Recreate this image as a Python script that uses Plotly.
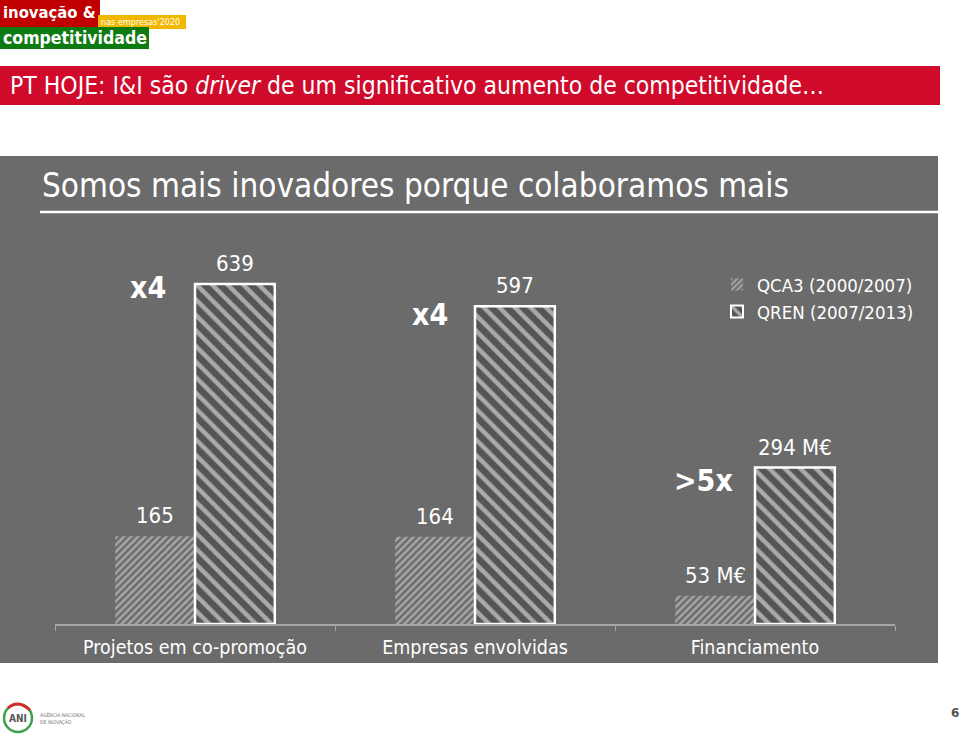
import plotly.graph_objects as go

categories = ["Projetos em co-promoção", "Empresas envolvidas", "Financiamento"]
qca3_values = [165, 164, 53]
qren_values = [639, 597, 294]
qca3_labels = ["165", "164", "53 M€"]
qren_labels = ["639", "597", "294 M€"]
multipliers = ["x4", "x4", ">5x"]
series_names = ["QCA3 (2000/2007)", "QREN (2007/2013)"]

FONT = "DejaVu Sans Condensed, DejaVu Sans, sans-serif"
PANEL = "#6b6b6b"

# plot area in pixels
L, R, T, B = 55, 65, 252, 114
W, H = 960, 738
PW, PH = W - L - R, H - T - B


def px(x):
    return (x - L) / PW


def py(y):
    return (H - B - y) / PH


fig = go.Figure()
fig.add_trace(go.Bar(
    x=categories, y=qca3_values, name=series_names[0],
    marker=dict(color=PANEL, line=dict(width=0),
                pattern=dict(shape="/", fgcolor="#e2e2e2", bgcolor=PANEL,
                             size=5, solidity=0.5)),
))
fig.add_trace(go.Bar(
    x=categories, y=qren_values, name=series_names[1],
    marker=dict(color="#555555", line=dict(width=2.5, color="white"),
                pattern=dict(shape="\\", fgcolor="white", bgcolor="#555555",
                             size=11, solidity=0.4)),
))

annotations = []
for i, c in enumerate(categories):
    annotations.append(dict(x=c, y=qca3_values[i], xref="x", yref="y", text=qca3_labels[i],
                            xshift=-40, yshift=6, yanchor="bottom", showarrow=False,
                            font=dict(family=FONT, size=22, color="white")))
    annotations.append(dict(x=c, y=qren_values[i], xref="x", yref="y", text=qren_labels[i],
                            xshift=40, yshift=6, yanchor="bottom", showarrow=False,
                            font=dict(family=FONT, size=22, color="white")))

mult_pos = [(148, 287), (430, 314), (703, 480)]
for m, (mx, my) in zip(multipliers, mult_pos):
    annotations.append(dict(x=px(mx), y=py(my), xref="paper", yref="paper", text="<b>%s</b>" % m,
                            showarrow=False, xanchor="center", yanchor="middle",
                            font=dict(family=FONT, size=30, color="white")))

# titles
annotations.append(dict(x=px(8), y=py(86), xref="paper", yref="paper", xanchor="left", yanchor="middle",
                        text="PT HOJE: I&I são <i>driver</i> de um significativo aumento de competitividade…",
                        showarrow=False, font=dict(family=FONT, size=24.5, color="white")))
annotations.append(dict(x=px(40), y=py(186), xref="paper", yref="paper", xanchor="left", yanchor="middle",
                        text="Somos mais inovadores porque colaboramos mais",
                        showarrow=False, font=dict(family=FONT, size=33, color="white")))
# logo top-left
annotations.append(dict(x=px(1), y=py(13), xref="paper", yref="paper", xanchor="left", yanchor="middle",
                        text="<b>inovação &</b>", showarrow=False,
                        font=dict(family=FONT, size=16.5, color="white")))
annotations.append(dict(x=px(99), y=py(22), xref="paper", yref="paper", xanchor="left", yanchor="middle",
                        text="nas empresas'2020", showarrow=False,
                        font=dict(family=FONT, size=9, color="white")))
annotations.append(dict(x=px(1), y=py(38), xref="paper", yref="paper", xanchor="left", yanchor="middle",
                        text="<b>competitividade</b>", showarrow=False,
                        font=dict(family=FONT, size=17.5, color="white")))
# ANI logo
annotations.append(dict(x=px(18), y=py(718), xref="paper", yref="paper", xanchor="center", yanchor="middle",
                        text="<b>ANI</b>", showarrow=False,
                        font=dict(family=FONT, size=10, color="#555555")))
annotations.append(dict(x=px(38), y=py(718), xref="paper", yref="paper", xanchor="left", yanchor="middle",
                        text="AGÊNCIA NACIONAL<br>DE INOVAÇÃO", showarrow=False, align="left",
                        font=dict(family=FONT, size=5, color="#777777")))
annotations.append(dict(x=px(955), y=py(713), xref="paper", yref="paper", xanchor="center", yanchor="middle",
                        text="<b>6</b>", showarrow=False,
                        font=dict(family="DejaVu Sans", size=12, color="#555555")))

shapes = [
    dict(type="rect", xref="paper", yref="paper", x0=px(0), x1=px(938), y0=py(663), y1=py(156),
         fillcolor=PANEL, line=dict(width=0), layer="below"),
    dict(type="line", xref="paper", yref="paper", x0=px(40), x1=px(938), y0=py(212), y1=py(212),
         line=dict(color="white", width=2.5), layer="below"),
    dict(type="rect", xref="paper", yref="paper", x0=px(0), x1=px(940), y0=py(105), y1=py(66),
         fillcolor="#cf0a2a", line=dict(width=0), layer="below"),
    dict(type="rect", xref="paper", yref="paper", x0=px(0), x1=px(100), y0=py(27), y1=py(0),
         fillcolor="#c00000", line=dict(width=0), layer="below"),
    dict(type="rect", xref="paper", yref="paper", x0=px(98), x1=px(186), y0=py(29), y1=py(15),
         fillcolor="#f2b800", line=dict(width=0), layer="below"),
    dict(type="rect", xref="paper", yref="paper", x0=px(0), x1=px(149), y0=py(49), y1=py(27),
         fillcolor="#0e7a12", line=dict(width=0), layer="below"),
    dict(type="circle", xref="paper", yref="paper", x0=px(4), x1=px(32), y0=py(732), y1=py(704),
         line=dict(color="#3aa34a", width=2.5), layer="below"),
    dict(type="path", xref="paper", yref="paper",
         path="M %f,%f Q %f,%f %f,%f" % (px(8), py(708), px(18), py(699), px(30), py(710)),
         line=dict(color="#d62a2a", width=3), layer="above"),
]

fig.update_layout(
    width=W, height=H,
    margin=dict(l=L, r=R, t=T, b=B),
    paper_bgcolor="white", plot_bgcolor="rgba(0,0,0,0)",
    barmode="group", bargap=0.43, bargroupgap=0,
    showlegend=True,
    legend=dict(x=px(717), y=py(266), xanchor="left", yanchor="top",
                bgcolor="rgba(0,0,0,0)", font=dict(family=FONT, size=18.5, color="white"),
                itemsizing="constant"),
    xaxis=dict(showgrid=False, showline=True, linecolor="#a6a6a6", linewidth=1.5,
               ticks="outside", tickson="boundaries", ticklen=5, tickcolor="#a6a6a6",
               ticklabelstandoff=5,
               tickfont=dict(family=FONT, size=19.5, color="white")),
    yaxis=dict(range=[0, 699], visible=False, showgrid=False, zeroline=False),
    annotations=annotations,
    shapes=shapes,
    font=dict(family=FONT),
)

fig.write_html("out.html")
